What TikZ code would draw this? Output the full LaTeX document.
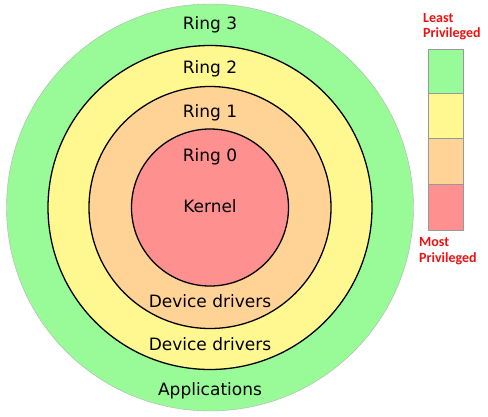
\documentclass[tikz,border=0pt]{standalone}
\usepackage{fontspec}
\setmainfont{DejaVu Sans}
\newfontfamily\legendfont{Carlito}
\definecolor{ringthree}{HTML}{98FB98}
\definecolor{ringtwo}{HTML}{FFF78F}
\definecolor{ringone}{HTML}{FFD295}
\definecolor{ringzero}{HTML}{FF9090}
\definecolor{legendred}{HTML}{EE1111}
\begin{document}
\begin{tikzpicture}[x=1pt,y=-1pt,line join=round,line cap=round,font=\fontsize{17}{20}\selectfont]
\def \cx{210};
\def \cy{207.5};
\useasboundingbox (0,0) rectangle (488,416);
\tikzset{ring/.style={draw=black,line width=1.3pt},
  ringlabel/.style={anchor=base,inner sep=0pt},
  legendlabel/.style={anchor=base west,inner sep=0pt,text=legendred,font=\legendfont\bfseries\fontsize{14}{16}\selectfont}}
\fill[ringthree,draw=gray!60,thin] (\cx,\cy) circle (203.5);
\filldraw[ring,fill=ringtwo] (\cx,\cy) circle (162);
\filldraw[ring,fill=ringone] (\cx,\cy) circle (121);
\filldraw[ring,fill=ringzero] (\cx,\cy) circle (78.5);
\node[ringlabel] (ringthree) at (\cx,29) {Ring 3};
\node[ringlabel] (ringtwo) at (\cx,73) {Ring 2};
\node[ringlabel] (ringone) at (\cx,117) {Ring 1};
\node[ringlabel] (ringzero) at (\cx,161) {Ring 0};
\node[ringlabel] (kernel) at (\cx,212) {Kernel};
\node[ringlabel] (driversone) at (\cx,307) {Device drivers};
\node[ringlabel] (driverstwo) at (\cx,350) {Device drivers};
\node[ringlabel] (apps) at (\cx,395) {Applications};
% legend
\foreach \c/\ya/\yb in {ringthree/49/93,ringtwo/93/138,ringone/138/184,ringzero/184/230}
  \filldraw[fill=\c,draw=gray!80,thin] (428,\ya) rectangle (463,\yb);
\node[legendlabel] (least) at (423,22) {Least};
\node[legendlabel] (leastpriv) at (423,37.5) {Privileged};
\node[legendlabel] (most) at (419,246) {Most};
\node[legendlabel] (mostpriv) at (419,262) {Privileged};
\end{tikzpicture}
\end{document}
